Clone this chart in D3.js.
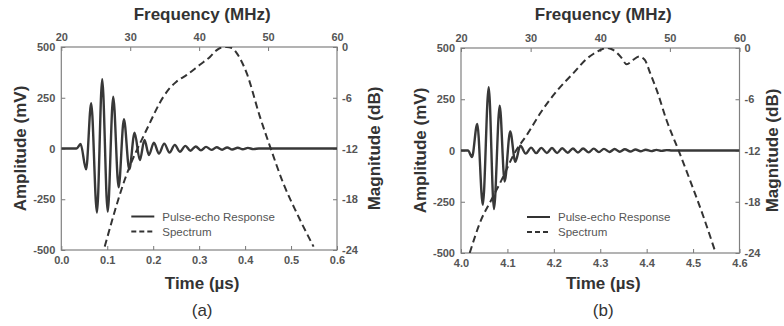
<!DOCTYPE html>
<html>
<head>
<meta charset="utf-8">
<script src="https://cdn.jsdelivr.net/npm/d3@7"></script>
<style>
  body { margin: 0; background: #fff; }
  svg { display: block; font-family: "Liberation Sans", Arial, sans-serif; }
  .tick text { font-size: 11px; font-weight: bold; fill: #555; }
  .tick line { stroke: #777; stroke-width: 1; }
  .title { font-size: 17px; font-weight: bold; fill: #333; }
  .legend { font-size: 11.5px; fill: #555; }
</style>
</head>
<body>
<svg id="chart" width="784" height="326"></svg>
<script>
// tick values
const ampTicks = [500, 250, 0, -250, -500];
const dbTicks = [0, -6, -12, -18, -24];
const freqTicks = [20, 30, 40, 50, 60];
const timeTicksA = [0, 0.1, 0.2, 0.3, 0.4, 0.5, 0.6];
const timeTicksB = [4.0, 4.1, 4.2, 4.3, 4.4, 4.5, 4.6];

// (a) pulse-echo response, extrema (µs, mV)
const pulseA_t = [0, 0.033, 0.042, 0.054, 0.065, 0.0776, 0.089, 0.101, 0.113, 0.1248, 0.1363, 0.148, 0.1595, 0.171, 0.181, 0.1907,
  0.2015, 0.2125, 0.224, 0.2355, 0.247, 0.258, 0.27, 0.281, 0.2925, 0.304, 0.315, 0.327, 0.338, 0.35, 0.361, 0.372, 0.384, 0.395, 0.406, 0.418, 0.43, 0.6];
const pulseA_mv = [0, 0, 22, -103, 223, -316, 341, -311, 255, -191, 144, -103, 78, -57, 42, -32,
  29, -25, 24, -20, 18, -16, 13, -11, 10, -9, 8, -7, 6, -6, 5, -5, 4, -4, 3, -3, 0, 0];

// (a) spectrum (MHz, dB)
const specA_mhz = [26.3, 29.2, 32.6, 34.8, 35.8, 36.7, 38.2, 40.1, 41.6, 42.5, 43.3, 44.0, 44.8, 45.6, 46.9, 48.8, 50.3, 52.2, 54.2, 56.6];
const specA_db = [-23.6, -15.7, -9.4, -5.9, -4.8, -4.1, -3.3, -2.1, -1.15, -0.4, -0.05, 0, -0.15, -0.9, -3.1, -8.2, -11.8, -16.1, -19.7, -23.6];

// (b) pulse-echo response
const pulseB_t = [4.0, 4.015, 4.0237, 4.035, 4.047, 4.0597, 4.071, 4.0834, 4.094, 4.106, 4.117, 4.128, 4.1395, 4.151, 4.162, 4.173, 4.185,
  4.196, 4.207, 4.218, 4.23, 4.241, 4.252, 4.263, 4.275, 4.286, 4.297, 4.308, 4.32, 4.331, 4.342, 4.353, 4.365, 4.376, 4.387, 4.398,
  4.41, 4.421, 4.432, 4.443, 4.455, 4.6];
const pulseB_mv = [0, 0, -32, 130, -265, 309, -286, 218, -151, 93, -55, 23, -15, 14, -13, 13, -12,
  12, -12, 11, -11, 10, -10, 10, -9, 9, -8, 8, -7, 7, -6, 6, -5, 5, -4, 4,
  -3, 3, -2, 2, 0, 0];

// (b) spectrum
const specB_mhz = [21.25, 22.9, 24.35, 25.8, 27.7, 29.6, 31.5, 33.9, 36.3, 38.0, 39.0, 40.1, 40.9, 41.9, 43.0, 43.8, 44.7, 45.6, 46.4, 47.2, 48.1, 49.5, 51.2, 52.9, 54.8, 56.5];
const specB_db = [-24, -20.1, -17.8, -15.5, -12.3, -10.0, -7.5, -4.9, -2.8, -1.3, -0.7, -0.2, 0, -0.25, -1.1, -1.9, -1.4, -1.0, -1.4, -3.0, -4.9, -8.4, -11.9, -15.5, -19.7, -23.8];

const legendLabels = ['Pulse-echo Response', 'Spectrum'];

const svg = d3.select('#chart');
const plain = d => String(d); // keep ASCII hyphen for negatives like the original

const drawPanel = (cfg) => {
  const { id, left, right, top, bottom, timeTicks, pt, pv, sf, sd, label } = cfg;
  const cx = (left + right) / 2;

  const x = d3.scaleLinear().domain(d3.extent(timeTicks)).range([left, right]);
  const xf = d3.scaleLinear().domain([20, 60]).range([left, right]);
  const y = d3.scaleLinear().domain([-500, 500]).range([bottom, top]);
  const yd = d3.scaleLinear().domain([-24, 0]).range([bottom, top]);

  const g = svg.append('g');

  g.append('clipPath').attr('id', 'clip-' + id)
    .append('rect')
    .attr('x', left).attr('y', top)
    .attr('width', right - left).attr('height', bottom - top);

  // axes with inward ticks
  const axB = g.append('g').attr('transform', `translate(0,${bottom})`)
    .call(d3.axisBottom(x).tickValues(timeTicks).tickFormat(d3.format('.1f')).tickSizeInner(-4).tickSizeOuter(0).tickPadding(6));
  const axT = g.append('g').attr('transform', `translate(0,${top})`)
    .call(d3.axisTop(xf).tickValues(freqTicks).tickFormat(plain).tickSizeInner(-4).tickSizeOuter(0).tickPadding(6));
  const axL = g.append('g').attr('transform', `translate(${left},0)`)
    .call(d3.axisLeft(y).tickValues(ampTicks).tickFormat(plain).tickSizeInner(-4).tickSizeOuter(0).tickPadding(6));
  const axR = g.append('g').attr('transform', `translate(${right},0)`)
    .call(d3.axisRight(yd).tickValues(dbTicks).tickFormat(plain).tickSizeInner(-4).tickSizeOuter(0).tickPadding(5));
  [axB, axT, axL, axR].forEach(a => a.select('.domain').remove());

  // frame
  g.append('rect')
    .attr('x', left).attr('y', top)
    .attr('width', right - left).attr('height', bottom - top)
    .attr('fill', 'none').attr('stroke', '#808080').attr('stroke-width', 1.2);

  const plot = g.append('g').attr('clip-path', `url(#clip-${id})`);

  const pulse = pt.map((t, i) => [t, pv[i]]);
  const spec = sf.map((f, i) => [f, sd[i]]);

  plot.append('path')
    .attr('d', d3.line().x(d => x(d[0])).y(d => y(d[1])).curve(d3.curveMonotoneX)(pulse))
    .attr('fill', 'none').attr('stroke', '#383838').attr('stroke-width', 2.4);

  plot.append('path')
    .attr('d', d3.line().x(d => xf(d[0])).y(d => yd(d[1])).curve(d3.curveMonotoneX)(spec))
    .attr('fill', 'none').attr('stroke', '#333').attr('stroke-width', 2).attr('stroke-dasharray', '7,4');

  // legend
  const lx = left + cfg.legendDx, ly = cfg.legendY;
  legendLabels.forEach((txt, i) => {
    g.append('line')
      .attr('x1', lx).attr('x2', lx + 23)
      .attr('y1', ly + i * 15).attr('y2', ly + i * 15)
      .attr('stroke', '#333').attr('stroke-width', 2)
      .attr('stroke-dasharray', i === 0 ? null : '5,3');
    g.append('text').attr('class', 'legend')
      .attr('x', lx + 31).attr('y', ly + i * 15 + 4)
      .text(txt);
  });

  // titles
  g.append('text').attr('class', 'title')
    .attr('x', cx + 3).attr('y', 20).attr('text-anchor', 'middle')
    .text('Frequency (MHz)');
  g.append('text').attr('class', 'title')
    .attr('x', cx + 3).attr('y', 289).attr('text-anchor', 'middle')
    .text('Time (µs)');
  g.append('text')
    .attr('x', cx + 3).attr('y', 316).attr('text-anchor', 'middle')
    .attr('font-size', 17).attr('fill', '#333')
    .text(label);
  g.append('text').attr('class', 'title')
    .attr('transform', `translate(${left - 35},${(top + bottom) / 2}) rotate(-90)`)
    .attr('text-anchor', 'middle')
    .text('Amplitude (mV)');
  g.append('text').attr('class', 'title')
    .attr('transform', `translate(${right + cfg.magDx},${(top + bottom) / 2}) rotate(-90)`)
    .attr('text-anchor', 'middle')
    .text('Magnitude (dB)');
};

drawPanel({ id: 'a', left: 61.3, right: 337, top: 47, bottom: 250, timeTicks: timeTicksA,
  pt: pulseA_t, pv: pulseA_mv, sf: specA_mhz, sd: specA_db, label: '(a)', legendY: 216.5, legendDx: 70, magDx: 43 });
drawPanel({ id: 'b', left: 461, right: 739.5, top: 48, bottom: 253, timeTicks: timeTicksB,
  pt: pulseB_t, pv: pulseB_mv, sf: specB_mhz, sd: specB_db, label: '(b)', legendY: 217, legendDx: 66, magDx: 38.5 });
</script>
</body>
</html>
